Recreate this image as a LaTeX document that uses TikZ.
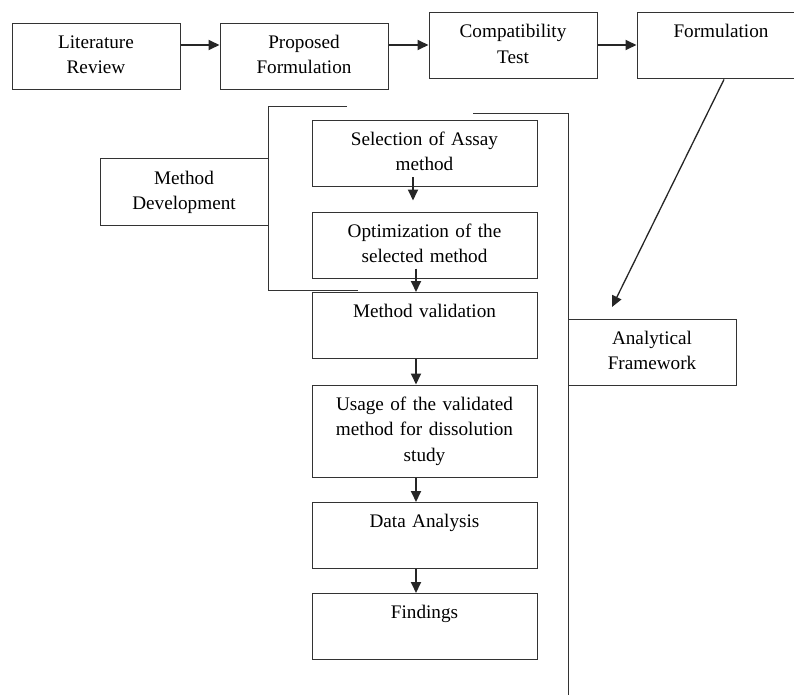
\documentclass[tikz,border=0pt]{standalone}
\usepackage{fontspec}
\setmainfont{Liberation Serif}
\usetikzlibrary{arrows.meta}

\tikzset{
  stage/.style={draw=black!80, line width=1pt, align=center, inner sep=0pt,
    text width=#1, text height=25pt, text depth=41pt},
  stage/.default=168pt,
  flow/.style={line width=1.8pt, black!85, -{Triangle[length=11pt,width=10pt]}},
  frame/.style={line width=1pt, black!80}
}

\begin{document}
\begin{tikzpicture}[x=1pt,y=-1pt,font={\fontsize{19.2}{25.5}\selectfont}]
 \useasboundingbox (0,0) rectangle (794,695);
 % top row
 \node[stage] (lit) at (96,56.5) {Literature\\Review};
 \node[stage] (prop) at (304,56.5) {Proposed\\Formulation};
 \node[stage] (comp) at (513,46) {Compatibility\\Test};
 \node[stage] (form) at (721,46) {Formulation};
 % method chain
 \node[stage] (mdev) at (184,192) {Method\\Development};
 \node[stage=225pt] (sel) at (424.5,153.5) {Selection of Assay\\method};
 \node[stage=225pt] (opt) at (424.5,245) {Optimization of the\\selected method};
 \node[stage=225pt] (val) at (424.5,325.5) {Method validation};
 \node[stage=225pt, text depth=67pt] (use) at (424.5,431) {Usage of the validated\\method for dissolution\\study};
 \node[stage=225pt] (data) at (424.5,535.5) {Data Analysis};
 \node[stage=225pt] (find) at (424.5,626.5) {Findings};
 \node[stage] (ana) at (652,352) {Analytical\\Framework};

 \coordinate (row) at (0,45);
 \coordinate (spine) at (416,0);
 \coordinate (aim) at (612,307);

 \draw[flow] (lit.east |- row) -- (prop.west |- row);
 \draw[flow] (prop.east |- row) -- (comp.west |- row);
 \draw[flow] (comp.east |- row) -- (form.west |- row);
 \draw[flow, line width=1.3pt] ([xshift=3pt]form.south) -- (aim);

 \draw[flow] ([xshift=-3pt,yshift=10pt]sel.south -| spine) -- ([xshift=-3pt,yshift=11pt]opt.north -| spine);
 \draw[flow] ([yshift=10pt]opt.south -| spine) -- (val.north -| spine);
 \draw[flow] (val.south -| spine) -- (use.north -| spine);
 \draw[flow] (use.south -| spine) -- (data.north -| spine);
 \draw[flow] (data.south -| spine) -- (find.north -| spine);

 % brackets
 \draw[frame] (347,107) -- (268,107) -- (268,290) -- (358,290);
 \draw[frame] (473,114) -- (568,114) -- (568,695);
\end{tikzpicture}
\end{document}
